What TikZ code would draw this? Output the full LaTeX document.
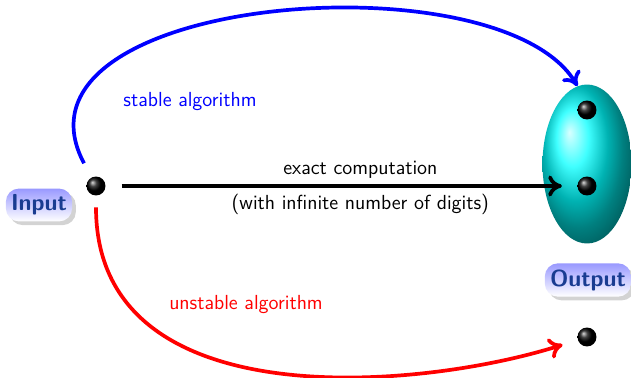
\documentclass[tikz,border=0pt]{standalone}
\usetikzlibrary{arrows.meta,shapes.geometric,shadows}

\definecolor{labelblue}{RGB}{25,60,145}

\begin{document}
\begin{tikzpicture}[
  x=0.019cm, y=-0.019cm,
  every node/.style={font=\sffamily\fontsize{11}{13}\selectfont},
  point/.style={circle, ball color=black, minimum size=0.36cm, inner sep=0pt},
  tag/.style={rounded corners=0.25cm, top color=blue!40, bottom color=white, text=labelblue,
    font=\sffamily\bfseries\fontsize{12.5}{14}\selectfont, minimum height=0.6cm, inner xsep=2.8pt,
    drop shadow={opacity=0.35, shadow xshift=0.7mm, shadow yshift=-0.7mm}},
  arrow/.style={line width=2pt, -{Computer Modern Rightarrow[length=2.6mm, width=4mm]}}
]
\useasboundingbox (0,0) rectangle (631,378);

\node[point] (in) at (96,186) {};
\node[tag] (inlabel) at (39,205) {Input};
\node[ellipse, ball color=cyan, minimum width=1.69cm, minimum height=3.02cm] (image) at (587,164) {};
\node[point] (stable) at (587,110) {};
\node[point] (exact) at (587,186) {};
\node[point] (unstable) at (587,337) {};
\node[tag] (outlabel) at (588,280) {Output};

\node[text=blue] (stablelabel) at (190,102) {stable algorithm};
\node[text=red] (unstablelabel) at (246,305) {unstable algorithm};

\draw[arrow, shorten <=0.3cm, shorten >=0.29cm] (in) -- node[pos=0.54, above] (exacttop) {exact computation}
  node[pos=0.54, below] (exactbot) {(with infinite number of digits)} (exact);
\draw[arrow, blue, shorten <=0.3cm] (in) .. controls (-5,-5) and (500,-45) .. (image.97);
\draw[arrow, red, shorten <=0.22cm, shorten >=0.3cm] (in) .. controls (96,420) and (420,390) .. (unstable);

\end{tikzpicture}
\end{document}
